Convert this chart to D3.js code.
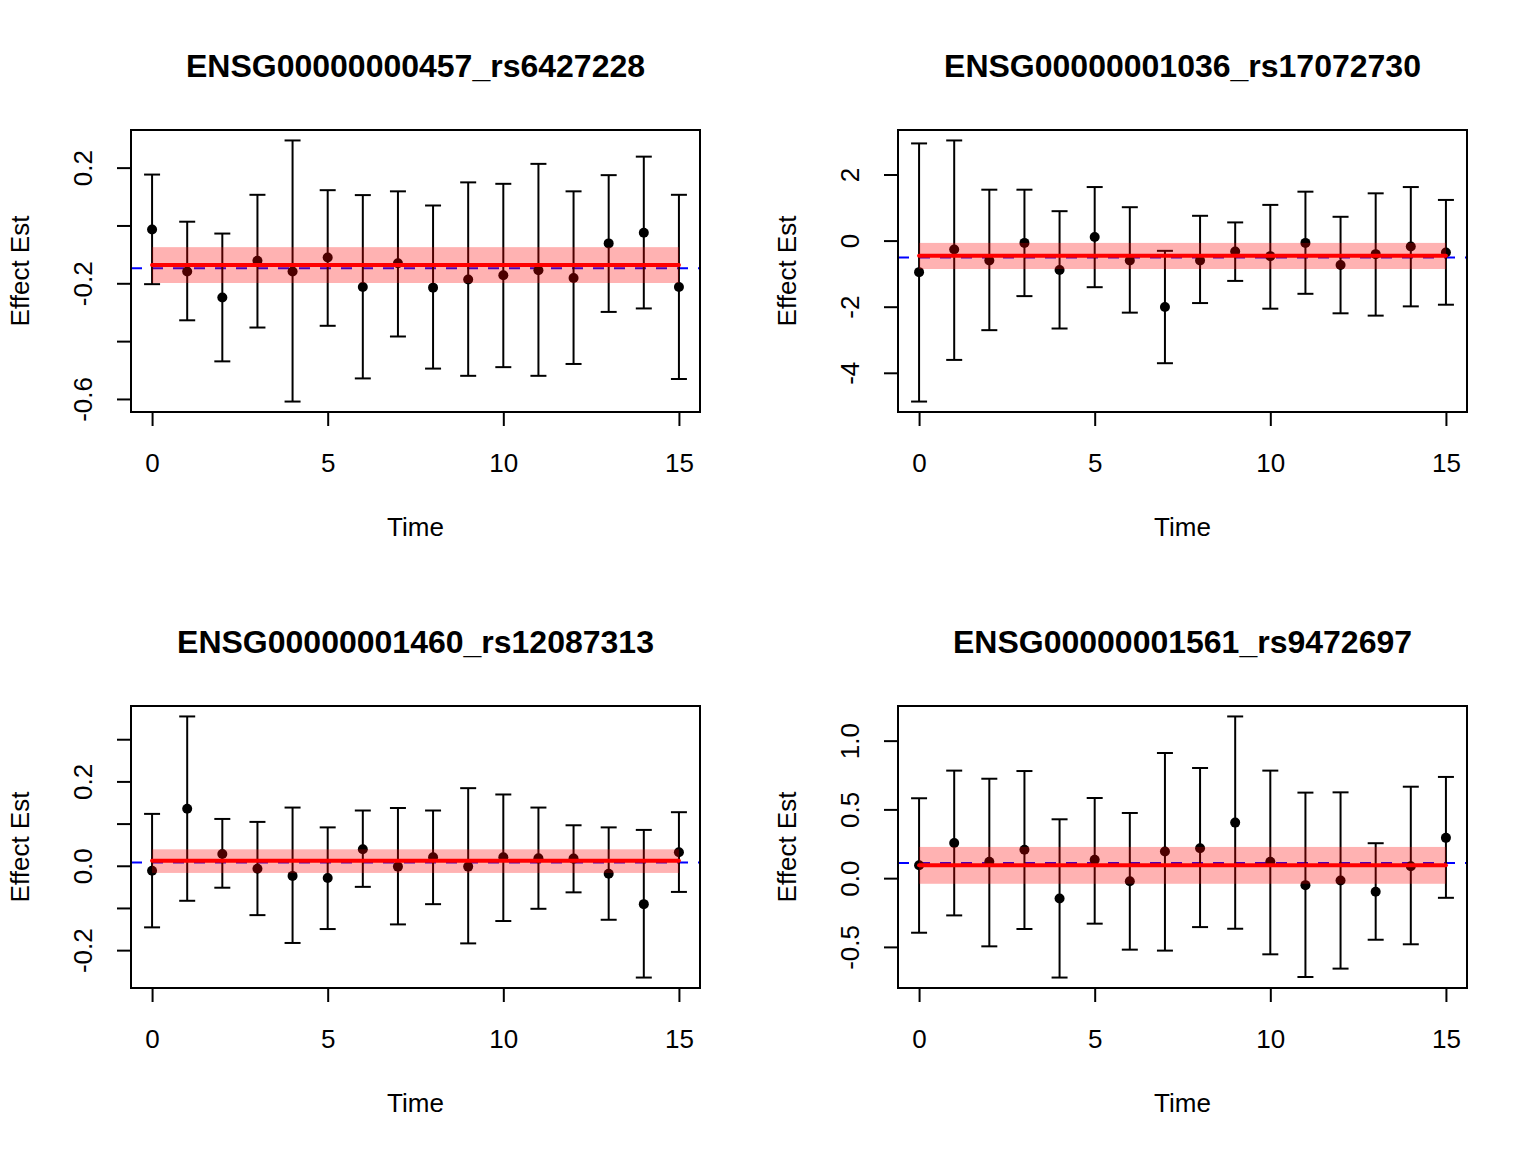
<!DOCTYPE html>
<html>
<head>
<meta charset="utf-8">
<script src="https://cdn.jsdelivr.net/npm/d3@7"></script>
<style>
  html, body { margin: 0; padding: 0; background: #fff; }
  svg { display: block; }
  text { font-family: "Liberation Sans", Arial, Helvetica, sans-serif; fill: #000; }
</style>
</head>
<body>
<div id="chart"></div>
<script>
// ---------------- data ----------------
const times = [0, 1, 2, 3, 4, 5, 6, 7, 8, 9, 10, 11, 12, 13, 14, 15];
const xTicks = [0, 5, 10, 15];

const titles = [
  "ENSG00000000457_rs6427228",
  "ENSG00000001036_rs17072730",
  "ENSG00000001460_rs12087313",
  "ENSG00000001561_rs9472697"
];

// panel 1
const est1 = [-0.014, -0.159, -0.249, -0.122, -0.159, -0.111, -0.213, -0.131, -0.215, -0.187, -0.172, -0.155, -0.182, -0.062, -0.025, -0.213];
const lo1  = [-0.203, -0.328, -0.470, -0.353, -0.609, -0.347, -0.529, -0.384, -0.495, -0.520, -0.490, -0.520, -0.479, -0.299, -0.287, -0.531];
const hi1  = [0.176, 0.013, -0.028, 0.106, 0.294, 0.122, 0.105, 0.118, 0.069, 0.149, 0.144, 0.213, 0.118, 0.174, 0.238, 0.106];
// panel 2
const est2 = [-0.955, -0.27, -0.60, -0.07, -0.89, 0.11, -0.60, -2.01, -0.60, -0.33, -0.47, -0.07, -0.74, -0.41, -0.18, -0.36];
const lo2  = [-4.87, -3.61, -2.71, -1.68, -2.66, -1.41, -2.18, -3.71, -1.89, -1.22, -2.06, -1.61, -2.20, -2.27, -1.99, -1.94];
const hi2  = [2.94, 3.03, 1.54, 1.54, 0.89, 1.62, 1.01, -0.31, 0.75, 0.55, 1.08, 1.48, 0.72, 1.43, 1.62, 1.23];
// panel 3
const est3 = [-0.012, 0.135, 0.028, -0.007, -0.024, -0.029, 0.039, -0.002, 0.020, -0.002, 0.020, 0.018, 0.017, -0.019, -0.091, 0.032];
const lo3  = [-0.146, -0.083, -0.052, -0.117, -0.183, -0.150, -0.050, -0.139, -0.091, -0.184, -0.131, -0.102, -0.063, -0.128, -0.265, -0.062];
const hi3  = [0.123, 0.354, 0.111, 0.104, 0.138, 0.091, 0.131, 0.137, 0.131, 0.184, 0.169, 0.138, 0.096, 0.091, 0.085, 0.127];
// panel 4
const est4 = [0.094, 0.256, 0.119, 0.206, -0.148, 0.133, -0.022, 0.194, 0.218, 0.404, 0.119, -0.051, -0.017, -0.099, 0.087, 0.293];
const lo4  = [-0.397, -0.271, -0.496, -0.370, -0.723, -0.331, -0.520, -0.527, -0.356, -0.368, -0.554, -0.719, -0.658, -0.448, -0.481, -0.143];
const hi4  = [0.581, 0.782, 0.723, 0.779, 0.428, 0.583, 0.474, 0.910, 0.801, 1.176, 0.782, 0.622, 0.624, 0.254, 0.665, 0.736];

// pooled estimate (red line), its band, and reference (blue dashed)
const pooled    = [-0.137, -0.46, 0.012, 0.094];
const bandLo    = [-0.199, -0.86, -0.017, -0.041];
const bandHi    = [-0.075, -0.07, 0.039, 0.227];
const reference = [-0.148, -0.51, 0.008, 0.111];

// y ticks and which ones carry a label
const yTicks1 = [-0.6, -0.4, -0.2, 0.0, 0.2];
const yLab1   = ["-0.6", "", "-0.2", "", "0.2"];
const yTicks2 = [-4, -2, 0, 2];
const yLab2   = ["-4", "-2", "0", "2"];
const yTicks3 = [-0.2, -0.1, 0.0, 0.1, 0.2, 0.3];
const yLab3   = ["-0.2", "", "0.0", "", "0.2", ""];
const yTicks4 = [-0.5, 0.0, 0.5, 1.0];
const yLab4   = ["-0.5", "0.0", "0.5", "1.0"];

const xLabel = "Time";
const yLabel = "Effect Est";

// ---------------- drawing ----------------
const panels = [
  {title: titles[0], est: est1, lo: lo1, hi: hi1, yt: yTicks1, yl: yLab1},
  {title: titles[1], est: est2, lo: lo2, hi: hi2, yt: yTicks2, yl: yLab2},
  {title: titles[2], est: est3, lo: lo3, hi: hi3, yt: yTicks3, yl: yLab3},
  {title: titles[3], est: est4, lo: lo4, hi: hi4, yt: yTicks4, yl: yLab4}
];
const origins = [[0, 0], [767, 0], [0, 576], [767, 576]];

const W = 1536, H = 1152;
const svg = d3.select("#chart").append("svg").attr("width", W).attr("height", H);

const box = {left: 131, right: 700, top: 130, bottom: 412};
const FONT = '"Liberation Sans", Arial, Helvetica, sans-serif';

panels.forEach((p, i) => {
  const g = svg.append("g").attr("transform", `translate(${origins[i][0]},${origins[i][1]})`);
  const id = "clip" + i;
  g.append("clipPath").attr("id", id).append("rect")
    .attr("x", box.left).attr("y", box.top)
    .attr("width", box.right - box.left).attr("height", box.bottom - box.top);

  const xd = d3.extent(times);
  const xpad = (xd[1] - xd[0]) * 0.04;
  const x = d3.scaleLinear().domain([xd[0] - xpad, xd[1] + xpad]).range([box.left, box.right]);
  const ymin = d3.min(p.lo), ymax = d3.max(p.hi);
  const ypad = (ymax - ymin) * 0.04;
  const y = d3.scaleLinear().domain([ymin - ypad, ymax + ypad]).range([box.bottom, box.top]);

  // reference dashed line (abline)
  g.append("line")
    .attr("clip-path", `url(#${id})`)
    .attr("x1", box.left).attr("x2", box.right)
    .attr("y1", y(reference[i])).attr("y2", y(reference[i]))
    .attr("stroke", "#0000ff").attr("stroke-width", 2)
    .attr("stroke-dasharray", "11,10");

  // error bars
  const eb = g.append("g").attr("stroke", "#000").attr("stroke-width", 2).attr("fill", "none");
  times.forEach((t, j) => {
    const cx = x(t);
    eb.append("line").attr("x1", cx).attr("x2", cx).attr("y1", y(p.lo[j])).attr("y2", y(p.hi[j]));
    eb.append("line").attr("x1", cx - 8).attr("x2", cx + 8).attr("y1", y(p.lo[j])).attr("y2", y(p.lo[j]));
    eb.append("line").attr("x1", cx - 8).attr("x2", cx + 8).attr("y1", y(p.hi[j])).attr("y2", y(p.hi[j]));
  });

  // points
  g.append("g").selectAll("circle").data(times).join("circle")
    .attr("cx", d => x(d)).attr("cy", (d, j) => y(p.est[j]))
    .attr("r", 5).attr("fill", "#000");

  // band
  g.append("rect")
    .attr("x", x(times[0])).attr("width", x(times[times.length - 1]) - x(times[0]))
    .attr("y", y(bandHi[i])).attr("height", y(bandLo[i]) - y(bandHi[i]))
    .attr("fill", "rgba(255,0,0,0.3)");

  // pooled line
  g.append("line")
    .attr("x1", x(times[0])).attr("x2", x(times[times.length - 1]))
    .attr("y1", y(pooled[i])).attr("y2", y(pooled[i]))
    .attr("stroke", "#ff0000").attr("stroke-width", 4).attr("stroke-linecap", "round");

  // box
  g.append("rect")
    .attr("x", box.left).attr("y", box.top)
    .attr("width", box.right - box.left).attr("height", box.bottom - box.top)
    .attr("fill", "none").attr("stroke", "#000").attr("stroke-width", 2);

  // x axis
  const xa = g.append("g").attr("transform", `translate(0,${box.bottom})`)
    .call(d3.axisBottom(x).tickValues(xTicks).tickFormat(d3.format("d")).tickSize(14).tickPadding(0));
  xa.select(".domain").attr("d", `M${x(xTicks[0])},0H${x(xTicks[xTicks.length - 1])}`).attr("stroke-width", 2);
  xa.selectAll(".tick line").attr("stroke-width", 2);
  xa.selectAll(".tick text").attr("font-size", 26).attr("y", 60).attr("dy", null)
    .attr("font-family", FONT);

  // y axis
  const ya = g.append("g").attr("transform", `translate(${box.left},0)`)
    .call(d3.axisLeft(y).tickValues(p.yt).tickFormat((d, k) => p.yl[k]).tickSize(14).tickPadding(0));
  ya.select(".domain").attr("d", `M0,${y(p.yt[0])}V${y(p.yt[p.yt.length - 1])}`).attr("stroke-width", 2);
  ya.selectAll(".tick line").attr("stroke-width", 2);
  ya.selectAll(".tick text")
    .attr("font-size", 26).attr("x", null).attr("y", 0).attr("dy", "0")
    .attr("text-anchor", "middle")
    .attr("transform", "translate(-39,0) rotate(-90)")
    .attr("font-family", FONT);

  // title
  g.append("text").attr("x", (box.left + box.right) / 2).attr("y", 77)
    .attr("text-anchor", "middle").attr("font-size", 32).attr("font-weight", "bold")
    .text(p.title);

  // axis titles
  g.append("text").attr("x", (box.left + box.right) / 2).attr("y", 536)
    .attr("text-anchor", "middle").attr("font-size", 26).text(xLabel);
  g.append("text")
    .attr("transform", `translate(29,${(box.top + box.bottom) / 2}) rotate(-90)`)
    .attr("text-anchor", "middle").attr("font-size", 26).text(yLabel);
});
</script>
</body>
</html>
